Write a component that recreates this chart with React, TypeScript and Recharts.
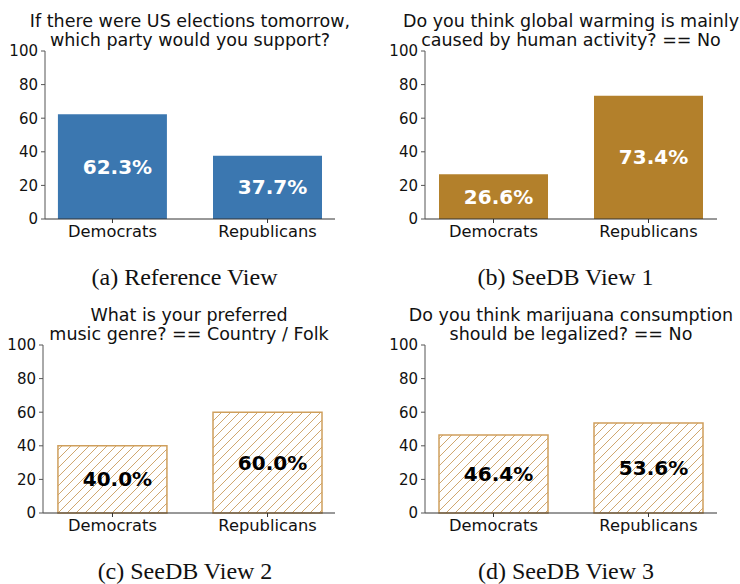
import { Bar, BarChart, LabelList, XAxis, YAxis } from "recharts";

const categories = ["Democrats", "Republicans"];

const referenceValues = [62.3, 37.7];
const view1Values = [26.6, 73.4];
const view2Values = [40.0, 60.0];
const view3Values = [46.4, 53.6];

const yTicks = [0, 20, 40, 60, 80, 100];

const titles = [
    ["If there were US elections tomorrow,", "which party would you support?"],
    ["Do you think global warming is mainly", "caused by human activity? == No"],
    ["What is your preferred", "music genre? == Country / Folk"],
    ["Do you think marijuana consumption", "should be legalized? == No"],
];

const captions = ["(a) Reference View", "(b) SeeDB View 1", "(c) SeeDB View 2", "(d) SeeDB View 3"];

const BLUE = "#3b77b0";
const BROWN = "#b3802b";
const HATCH = "#c4914a";
const FONT = "DejaVu Sans";

interface PanelProps {
    id: string;
    values: number[];
    title: string[];
    caption: string;
    left: number;
    top: number;
    axisLeft: number;
    axisRight: number;
    plotTop: number;
    plotBottom: number;
    domainLo: number;
    domainHi: number;
    captionX: number;
    captionTop: number;
    fill: string;
    hatched: boolean;
}

const PANEL_W = 370;
const PANEL_H = 292;
const XAXIS_H = 30;
const HS = 9; // hatch spacing

const Panel = (p: PanelProps) => {
    const data = p.values.map((v, i) => ({ x: i, name: categories[i], value: v }));
    const labelColor = p.hatched ? "#000" : "#fff";

    const renderLabel = (props: any) => {
        const { x, y, width, height, value } = props;
        return (
            <text
                x={Number(x) + Number(width) / 2 + 5}
                y={Number(y) + Number(height) / 2}
                fill={labelColor}
                fontFamily={FONT}
                fontWeight="bold"
                fontSize={20}
                textAnchor="middle"
                dominantBaseline="central"
            >
                {`${Number(value).toFixed(1)}%`}
            </text>
        );
    };

    return (
        <div style={{ position: "absolute", left: p.left, top: p.top, width: PANEL_W, height: PANEL_H }}>
            <div
                style={{
                    position: "absolute",
                    left: p.axisLeft - 80,
                    width: p.axisRight - p.axisLeft + 160,
                    top: p.plotTop - 39,
                    textAlign: "center",
                    fontFamily: FONT,
                    fontSize: 17.5,
                    lineHeight: "18.5px",
                    color: "#111",
                    whiteSpace: "nowrap",
                }}
            >
                {p.title[0]}
                <br />
                {p.title[1]}
            </div>
            <BarChart
                width={PANEL_W}
                height={PANEL_H}
                data={data}
                margin={{ top: p.plotTop, left: 0, right: PANEL_W - p.axisRight, bottom: PANEL_H - p.plotBottom - XAXIS_H }}
            >
                <defs>
                    <pattern id={`hatch-${p.id}`} patternUnits="userSpaceOnUse" width={HS} height={HS}>
                        <rect width={HS} height={HS} fill="#fff" />
                        <path
                            d={`M0,${HS} L${HS},0 M${-HS / 4},${HS / 4} L${HS / 4},${-HS / 4} M${HS * 0.75},${HS * 1.25} L${HS * 1.25},${HS * 0.75}`}
                            stroke={HATCH}
                            strokeWidth={0.8}
                        />
                    </pattern>
                </defs>
                <XAxis
                    dataKey="x"
                    type="number"
                    domain={[p.domainLo, p.domainHi]}
                    ticks={[0, 1]}
                    tickFormatter={(v: number) => categories[v] ?? ""}
                    height={XAXIS_H}
                    tickSize={4}
                    tickMargin={2}
                    stroke="#333"
                    tick={{ fill: "#111", fontSize: 16.3, fontFamily: FONT }}
                    interval={0}
                    allowDataOverflow
                />
                <YAxis
                    domain={[0, 100]}
                    ticks={yTicks}
                    width={p.axisLeft}
                    tickSize={4}
                    tickMargin={3}
                    stroke="#555"
                    tick={{ fill: "#111", fontSize: 15, fontFamily: FONT }}
                    interval={0}
                />
                <Bar
                    dataKey="value"
                    barSize={109}
                    fill={p.hatched ? `url(#hatch-${p.id})` : p.fill}
                    stroke={p.hatched ? "#cf9f5c" : "none"}
                    strokeWidth={p.hatched ? 1.5 : 0}
                    isAnimationActive={false}
                >
                    <LabelList dataKey="value" content={renderLabel} />
                </Bar>
            </BarChart>
            <div
                style={{
                    position: "absolute",
                    left: p.captionX - 150,
                    width: 300,
                    top: p.captionTop,
                    textAlign: "center",
                    fontFamily: "Liberation Serif",
                    fontSize: 24,
                    lineHeight: "24px",
                    color: "#111",
                    whiteSpace: "nowrap",
                }}
            >
                {p.caption}
            </div>
        </div>
    );
};

const App = () => {
    return (
        <div style={{ position: "absolute", left: 0, top: 0, width: 740, height: 584, background: "#fff" }}>
            <Panel
                id="a" values={referenceValues} title={titles[0]} caption={captions[0]}
                left={0} top={0} axisLeft={45} axisRight={335} plotTop={51} plotBottom={219}
                domainLo={-0.435} domainHi={1.435} captionX={184.5} captionTop={265}
                fill={BLUE} hatched={false}
            />
            <Panel
                id="b" values={view1Values} title={titles[1]} caption={captions[1]}
                left={370} top={0} axisLeft={55} axisRight={347} plotTop={51} plotBottom={219}
                domainLo={-0.442} domainHi={1.442} captionX={195.5} captionTop={265}
                fill={BROWN} hatched={false}
            />
            <Panel
                id="c" values={view2Values} title={titles[2]} caption={captions[2]}
                left={0} top={292} axisLeft={43} axisRight={335} plotTop={53} plotBottom={221}
                domainLo={-0.448} domainHi={1.435} captionX={185} captionTop={267}
                fill={BROWN} hatched={true}
            />
            <Panel
                id="d" values={view3Values} title={titles[3]} caption={captions[3]}
                left={370} top={292} axisLeft={55} axisRight={347} plotTop={53} plotBottom={221}
                domainLo={-0.442} domainHi={1.442} captionX={196} captionTop={267}
                fill={BROWN} hatched={true}
            />
        </div>
    );
};

export default App;
